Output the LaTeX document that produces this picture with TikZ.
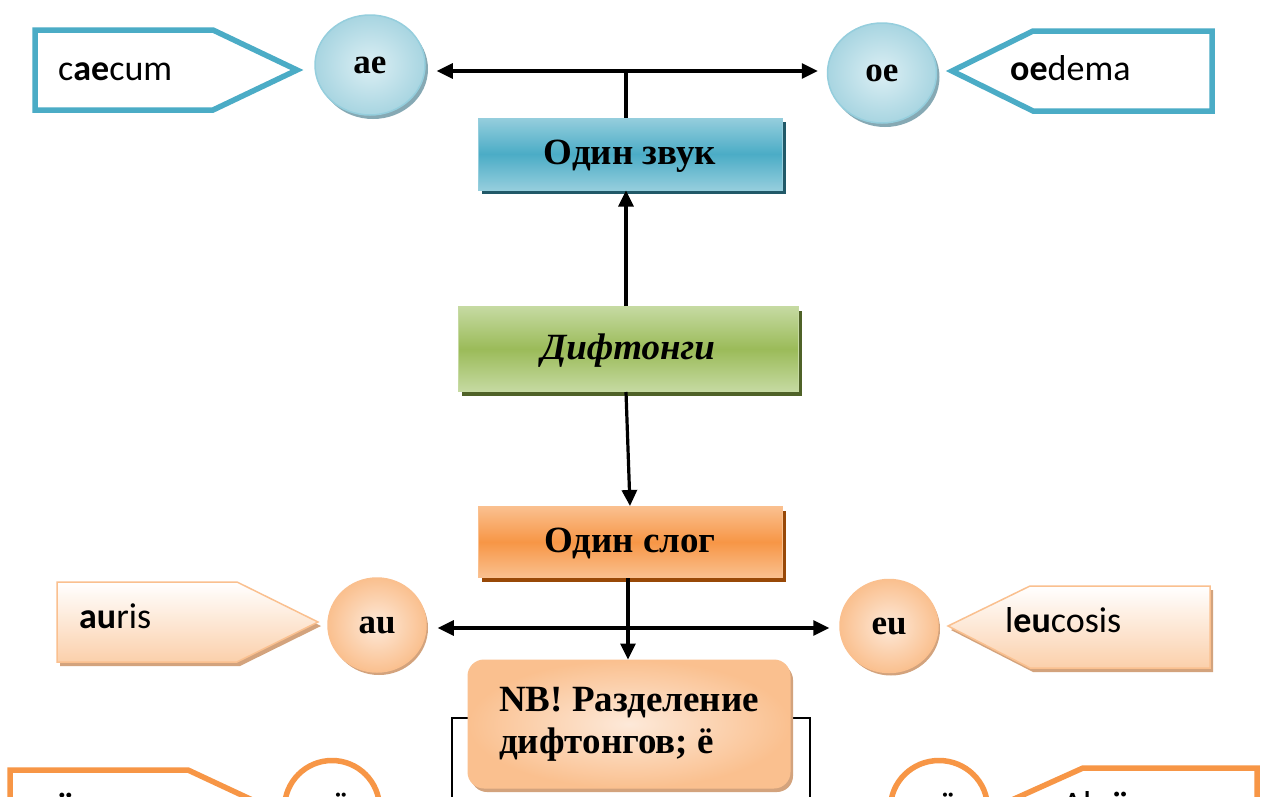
\documentclass[tikz,border=0pt]{standalone}
\usepackage{fontspec}
\setmainfont{Liberation Serif}
\newfontfamily\calib{Carlito}
\usetikzlibrary{arrows.meta,shadows,shapes.geometric}
\definecolor{tealA}{HTML}{4BACC6}
\definecolor{tealL}{HTML}{95CEDD}
\definecolor{tealS}{HTML}{215968}
\definecolor{grnA}{HTML}{9BBB59}
\definecolor{grnL}{HTML}{C6DAA2}
\definecolor{grnS}{HTML}{4F6228}
\definecolor{orA}{HTML}{F79646}
\definecolor{orL}{HTML}{FAC08F}
\definecolor{orS}{HTML}{984807}
\definecolor{orP}{HTML}{FDE9D9}
\definecolor{orSh}{HTML}{D3A37D}
\definecolor{blP}{HTML}{DCEFF4}
\definecolor{blO}{HTML}{A8D5E1}
\definecolor{blS}{HTML}{86A9B4}
\tikzset{
  mainbox/.style={rectangle, inner sep=0pt, text height=26pt, text depth=6pt, font=\fontsize{37}{44}\selectfont\bfseries},
  ball/.style={ellipse, inner sep=0pt, line width=1.5pt, font=\fontsize{35}{40}\selectfont\bfseries},
  word/.style={inner sep=0pt, anchor=base west, font=\calib\fontsize{36}{40}\selectfont},
  arr/.style={line width=3.2pt, -{Triangle[length=16pt,width=15pt]}},
  plain/.style={line width=3.2pt},
  bracketline/.style={line width=2.4pt},
  outlinepent/.style={line width=5.5pt, fill=white, line join=miter},
}
\begin{document}
\begin{tikzpicture}[x=1pt,y=-1pt]
\useasboundingbox (0,0) rectangle (1262,796);
\clip (0,0) rectangle (1262,796);
\fill[white] (0,0) rectangle (1262,796);

% top pentagons
\draw[outlinepent, draw=tealA] (35,30) -- (213,30) -- (297,70) -- (213,110) -- (35,110) -- cycle;
\draw[outlinepent, draw=tealA] (1212,31) -- (1033,31) -- (952,71) -- (1033,111) -- (1212,111) -- cycle;
\node[word] (caecum) at (58,80) {c\textbf{ae}cum};
\node[word] (oedema) at (1010,80) {\textbf{oe}dema};

% top circles
\node[ball, minimum width=110pt, minimum height=100pt, draw=tealL, inner color=blP, outer color=blO,
      drop shadow={shadow xshift=3pt, shadow yshift=-4pt, fill=blS, opacity=1}] (ae) at (370,65) {ae};
\node[ball, minimum width=109pt, minimum height=100pt, draw=tealL, inner color=blP, outer color=blO,
      drop shadow={shadow xshift=3pt, shadow yshift=-4pt, fill=blS, opacity=1}] (oe) at (882,73) {oe};

% main boxes
\node[mainbox, minimum width=304pt, minimum height=72pt, draw=tealL, line width=1pt,
      top color=tealL, bottom color=tealL, middle color=tealA,
      drop shadow={shadow xshift=4pt, shadow yshift=-4pt, fill=tealS, opacity=1}] (zvuk) at (630,154) {Один звук};
\node[mainbox, minimum width=340pt, minimum height=85pt, draw=grnL, line width=1pt,
      top color=grnL, bottom color=grnL, middle color=grnA,
      drop shadow={shadow xshift=4pt, shadow yshift=-4pt, fill=grnS, opacity=1}] (dif) at (628,349) {\itshape Дифтонги};
\node[mainbox, minimum width=304pt, minimum height=71pt, draw=orL, line width=1pt,
      top color=orL, bottom color=orL, middle color=orA,
      drop shadow={shadow xshift=4pt, shadow yshift=-4pt, fill=orS, opacity=1}] (slog) at (630,542) {Один слог};

% top connectors
\coordinate (tj) at (626,71);
\draw[plain] (zvuk.north -| tj) -- (tj);
\draw[arr, shorten >=11pt] (tj) -- (ae.east |- tj);
\draw[arr, shorten >=9pt] (tj) -- (oe.west |- tj);
\draw[arr] (dif.north -| tj) -- (zvuk.south -| tj);
\draw[arr] (dif.south -| tj) -- (slog.north);

% middle pentagons
\fill[orSh, xshift=3pt, yshift=-4pt] (57,582) -- (237,582) -- (318,622) -- (237,662) -- (57,662) -- cycle;
\draw[draw=orL, line width=1.5pt, top color=white, bottom color=orL!75] (57,582) -- (237,582) -- (318,622) -- (237,662) -- (57,662) -- cycle;
\fill[orSh, xshift=3pt, yshift=-4pt] (1210,586) -- (1030,586) -- (948,626) -- (1030,668) -- (1210,668) -- cycle;
\draw[draw=orL, line width=1.5pt, top color=white, bottom color=orL!75] (1210,586) -- (1030,586) -- (948,626) -- (1030,668) -- (1210,668) -- cycle;
\node[word] (auris) at (79,628) {\textbf{au}ris};
\node[word] (leuc) at (1005,632) {l\textbf{eu}cosis};

% middle circles
\node[ball, minimum width=98pt, minimum height=94pt, draw=orL, inner color=orP, outer color=orL,
      drop shadow={shadow xshift=2pt, shadow yshift=-3pt, fill=orSh, opacity=1}] (au) at (377,625) {au};
\node[ball, minimum width=98pt, minimum height=93pt, draw=orL, inner color=orP, outer color=orL,
      drop shadow={shadow xshift=2pt, shadow yshift=-3pt, fill=orSh, opacity=1}] (eu) at (889,626) {eu};

% bracket behind NB box
\coordinate (brL) at (452,718);
\coordinate (brR) at (810,718);
\coordinate (brLd) at (452,800);
\coordinate (brRd) at (810,800);
\draw[bracketline] (629,718) -- (brL) -- (brLd);
\draw[bracketline] (629,718) -- (brR) -- (brRd);

% NB box
\node[rectangle, rounded corners=16pt, minimum width=322pt, minimum height=128pt, inner sep=0pt,
      draw=orL, line width=1pt, inner color=orP, outer color=orL,
      drop shadow={shadow xshift=3pt, shadow yshift=-4pt, fill=orSh, opacity=1},
      align=left, font=\fontsize{37}{42}\selectfont\bfseries] (nb) at (629,724)
      {NB! Разделение\\дифтонгов; ё};

% middle connectors
\coordinate (mj) at (628,628);
\draw[arr] (slog.south -| mj) -- (nb.north -| mj);
\draw[arr, shorten >=11pt] (mj) -- (au.east |- mj);
\draw[arr, shorten >=10pt] (mj) -- (eu.west |- mj);

% bottom (cut) row
\draw[outlinepent, draw=orA] (10,770) -- (188,770) -- (278,812) -- (188,854) -- (10,854) -- cycle;
\draw[outlinepent, draw=orA] (1257,768) -- (1083,768) -- (994,808) -- (1083,848) -- (1257,848) -- cycle;
\node[ellipse, minimum width=95pt, minimum height=95pt, draw=orA, line width=5.5pt, fill=white] (ae2) at (332,808) {};
\node[ellipse, minimum width=97pt, minimum height=95pt, draw=orA, line width=5.5pt, fill=white] (oe2) at (939,808) {};
\node[inner sep=0pt, anchor=base, font=\fontsize{35}{40}\selectfont\bfseries] (ae2t) at (ae2.center |- 0,816) {aë};
\node[inner sep=0pt, anchor=base, font=\fontsize{35}{40}\selectfont\bfseries] (oe2t) at (oe2.center |- 0,816) {oë};
\node[word] (aer) at (38,817) {\textbf{aë}r};
\node[word] (aloe) at (1062,816) {Al\textbf{oë}};
\end{tikzpicture}
\end{document}
